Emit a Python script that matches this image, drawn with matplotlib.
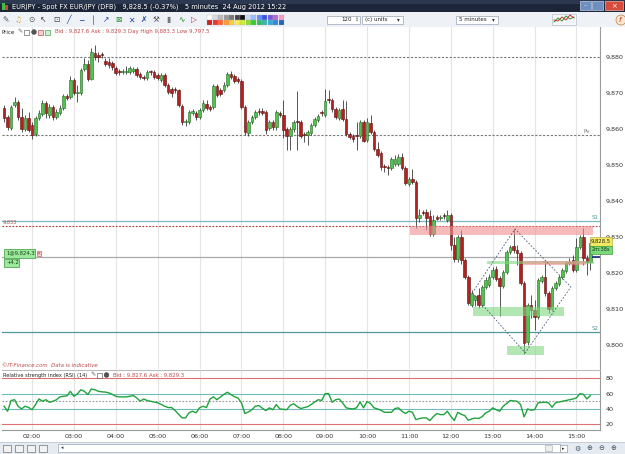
import matplotlib
matplotlib.use("Agg")
import matplotlib.pyplot as plt
import matplotlib.patches as mpatches

# EUR/JPY 5 minute candles, first bar at 01:20
first_bar_min = 80
bar_min = 5

opens = [9865.8, 9863.3, 9860.3, 9866.7, 9867.5, 9863.3, 9860.0, 9863.1, 9861.1, 9858.6,
         9863.1, 9864.2, 9867.2, 9863.9, 9866.1, 9863.3, 9864.4, 9865.8, 9869.2, 9868.9,
         9873.6, 9870.0, 9870.0, 9876.7, 9878.1, 9873.9, 9881.1, 9880.6, 9880.8, 9878.9,
         9878.6, 9878.3, 9876.9, 9875.8, 9875.8, 9875.8, 9875.8, 9876.1, 9876.7, 9875.3,
         9874.4, 9874.2, 9875.8, 9875.8, 9875.0, 9873.6, 9875.0, 9872.2, 9871.1, 9870.8,
         9870.8, 9866.4, 9861.9, 9861.9, 9864.4, 9864.4, 9863.3, 9865.3, 9866.9, 9866.1,
         9866.1, 9871.9, 9870.8, 9870.8, 9872.2, 9875.3, 9874.7, 9873.9, 9873.3, 9866.1,
         9858.9, 9861.9, 9863.3, 9864.7, 9865.0, 9864.7, 9860.3, 9861.9, 9860.6, 9864.4,
         9863.9, 9860.0, 9858.1, 9860.0, 9861.9, 9861.9, 9858.3, 9858.3, 9858.9, 9861.1,
         9862.5, 9864.4, 9863.9, 9868.1, 9868.1, 9865.6, 9863.1, 9865.6, 9862.8, 9858.6,
         9858.1, 9858.1, 9858.1, 9861.9, 9856.9, 9861.7, 9859.2, 9854.4, 9853.3, 9849.4,
         9849.2, 9849.2, 9850.3, 9850.3, 9852.2, 9849.2, 9844.7, 9846.1, 9845.3, 9835.3,
         9836.7, 9836.9, 9835.8, 9830.8, 9835.3, 9835.3, 9835.8, 9834.7, 9836.1, 9827.8,
         9823.9, 9830.0, 9823.6, 9818.9, 9811.1, 9812.5, 9813.9, 9811.1, 9816.1, 9816.7,
         9818.9, 9821.1, 9818.6, 9816.4, 9820.3, 9825.8, 9827.5, 9826.4, 9825.6, 9817.2,
         9800.8, 9811.1, 9809.7, 9807.8, 9817.8, 9818.9, 9814.4, 9810.0, 9815.8, 9816.9,
         9818.9, 9820.6, 9822.8, 9823.6, 9820.8, 9827.2, 9830.0, 9824.2, 9823.1]
closes = [9863.1, 9860.6, 9866.1, 9867.5, 9863.3, 9860.0, 9863.1, 9859.7, 9858.3, 9863.1,
          9864.4, 9867.2, 9864.4, 9866.1, 9863.3, 9864.7, 9865.8, 9869.2, 9868.6, 9873.6,
          9870.0, 9870.3, 9876.4, 9878.1, 9873.9, 9881.4, 9880.0, 9880.0, 9880.6, 9878.1,
          9877.8, 9877.2, 9875.6, 9875.7, 9875.9, 9876.1, 9876.9, 9876.7, 9875.0, 9874.4,
          9874.2, 9875.8, 9875.7, 9874.4, 9874.2, 9875.0, 9872.2, 9870.3, 9870.0, 9870.7,
          9866.7, 9861.9, 9862.0, 9864.7, 9865.0, 9863.3, 9865.3, 9867.2, 9865.8, 9865.6,
          9871.9, 9869.4, 9869.7, 9872.2, 9875.3, 9874.4, 9873.3, 9873.3, 9866.1, 9859.2,
          9861.9, 9863.3, 9864.7, 9864.6, 9864.4, 9859.7, 9861.9, 9860.6, 9864.7, 9863.9,
          9859.7, 9858.1, 9860.0, 9861.9, 9861.8, 9858.1, 9858.2, 9859.2, 9861.1, 9862.8,
          9863.6, 9864.3, 9867.8, 9867.9, 9865.6, 9863.3, 9865.3, 9862.8, 9858.6, 9857.8,
          9857.2, 9857.9, 9861.9, 9856.7, 9861.9, 9859.2, 9854.4, 9852.8, 9849.4, 9849.3,
          9849.0, 9851.7, 9851.7, 9852.2, 9849.2, 9845.0, 9846.1, 9845.3, 9835.3, 9836.1,
          9836.5, 9835.3, 9830.8, 9834.7, 9835.1, 9835.4, 9835.7, 9836.1, 9827.8, 9823.9,
          9830.0, 9823.6, 9818.9, 9811.7, 9814.4, 9813.6, 9811.1, 9816.1, 9818.1, 9818.9,
          9820.8, 9818.3, 9816.4, 9820.3, 9825.8, 9827.2, 9826.4, 9825.6, 9817.2, 9800.6,
          9811.1, 9809.7, 9807.8, 9818.1, 9818.9, 9814.4, 9810.0, 9815.8, 9817.2, 9818.9,
          9820.8, 9822.8, 9823.1, 9820.8, 9827.2, 9830.0, 9824.2, 9823.1, 9828.3]
highs = [9866.7, 9863.9, 9866.7, 9868.9, 9868.1, 9865.8, 9863.9, 9864.7, 9861.9, 9863.6,
         9865.3, 9868.1, 9867.8, 9866.9, 9866.7, 9865.6, 9866.7, 9869.7, 9869.7, 9874.7,
         9874.2, 9872.2, 9876.9, 9879.7, 9879.2, 9882.5, 9883.3, 9881.4, 9881.4, 9879.7,
         9879.7, 9878.9, 9877.5, 9876.7, 9876.7, 9877.5, 9877.5, 9877.2, 9877.2, 9875.8,
         9875.0, 9876.4, 9876.4, 9876.4, 9875.6, 9875.6, 9875.6, 9872.8, 9871.7, 9871.7,
         9871.1, 9866.9, 9862.8, 9865.3, 9865.6, 9865.0, 9865.8, 9868.1, 9868.1, 9866.7,
         9872.5, 9872.5, 9871.4, 9873.1, 9875.8, 9876.1, 9875.3, 9874.4, 9873.9, 9866.7,
         9862.5, 9863.9, 9865.3, 9865.8, 9865.8, 9865.3, 9862.5, 9862.5, 9865.3, 9865.0,
         9868.1, 9860.6, 9860.6, 9862.5, 9870.6, 9862.5, 9859.2, 9859.7, 9861.7, 9863.3,
         9864.2, 9865.3, 9871.1, 9870.8, 9868.6, 9866.1, 9865.8, 9868.1, 9867.8, 9859.2,
         9858.6, 9861.9, 9862.5, 9862.5, 9863.1, 9863.9, 9859.7, 9856.4, 9853.9, 9850.3,
         9850.0, 9852.2, 9852.8, 9853.1, 9853.3, 9849.7, 9846.7, 9848.9, 9845.8, 9837.8,
         9837.5, 9837.8, 9837.5, 9836.1, 9836.1, 9836.1, 9836.7, 9837.5, 9836.7, 9830.0,
         9830.6, 9831.9, 9824.2, 9819.4, 9815.3, 9813.9, 9815.8, 9816.7, 9818.9, 9819.7,
         9821.7, 9821.9, 9819.2, 9820.8, 9826.4, 9827.8, 9832.2, 9827.8, 9826.1, 9817.8,
         9811.7, 9813.9, 9812.5, 9818.6, 9819.4, 9823.6, 9815.0, 9816.4, 9817.8, 9819.4,
         9821.4, 9823.3, 9824.2, 9825.0, 9829.7, 9830.6, 9832.5, 9825.0, 9829.4]
lows = [9861.9, 9859.7, 9859.7, 9866.1, 9862.5, 9859.2, 9859.4, 9859.2, 9857.2, 9858.1,
        9862.5, 9863.6, 9863.1, 9863.1, 9862.5, 9862.8, 9863.9, 9865.3, 9868.1, 9868.3,
        9869.4, 9867.5, 9869.4, 9876.1, 9873.3, 9873.6, 9879.2, 9878.6, 9879.7, 9877.5,
        9876.9, 9876.4, 9875.0, 9875.0, 9875.3, 9875.3, 9875.3, 9875.6, 9874.4, 9873.9,
        9873.6, 9873.6, 9875.0, 9873.9, 9873.6, 9873.1, 9871.7, 9869.7, 9868.9, 9870.0,
        9866.1, 9861.1, 9860.8, 9861.4, 9863.9, 9862.5, 9862.8, 9864.7, 9865.3, 9865.0,
        9865.6, 9868.9, 9869.2, 9870.3, 9871.7, 9873.9, 9872.8, 9872.8, 9865.6, 9858.3,
        9858.1, 9861.4, 9862.8, 9863.9, 9863.9, 9858.6, 9859.7, 9859.7, 9859.7, 9863.3,
        9857.5, 9854.2, 9854.2, 9859.2, 9854.2, 9857.5, 9856.4, 9855.6, 9858.3, 9860.6,
        9861.9, 9863.6, 9863.3, 9867.2, 9864.7, 9862.8, 9862.5, 9862.2, 9858.1, 9857.2,
        9856.4, 9854.2, 9857.5, 9856.4, 9856.4, 9858.6, 9853.9, 9852.2, 9848.6, 9848.1,
        9847.2, 9848.6, 9849.7, 9849.7, 9848.6, 9844.4, 9844.2, 9844.7, 9832.5, 9834.2,
        9836.1, 9831.9, 9830.3, 9830.3, 9834.7, 9834.7, 9835.0, 9834.2, 9826.4, 9823.1,
        9823.1, 9822.5, 9818.3, 9811.1, 9810.6, 9810.8, 9810.3, 9810.6, 9815.6, 9816.1,
        9818.3, 9817.8, 9808.1, 9815.8, 9819.7, 9825.3, 9825.6, 9822.2, 9816.7, 9797.5,
        9800.0, 9807.5, 9804.2, 9807.2, 9817.2, 9813.6, 9808.9, 9809.4, 9815.3, 9816.4,
        9818.3, 9820.0, 9822.2, 9820.3, 9820.3, 9826.7, 9822.2, 9819.4, 9820.8]

rsi = [43.5, 37, 51, 52, 43.5, 40, 43.5, 42, 39, 45.7,
       53, 50, 52, 48.7, 50, 52, 55.7, 56.5, 57, 63,
       56.5, 59.7, 65, 63, 58.7, 66, 65, 63, 62.3, 62,
       61, 59, 56.5, 55.7, 55.7, 55.7, 56.5, 57.5, 54.4, 50,
       53, 51, 50, 49, 48, 46, 43.5, 41.8, 41.8, 38,
       33, 28.3, 28.3, 35, 37, 35, 41.4, 43.5, 41.8, 53,
       55.7, 52, 55.7, 59, 61.8, 58.7, 56, 54.4, 48, 34,
       36, 39, 43.5, 44.4, 41, 37.8, 41.4, 39, 45.7, 40,
       39.5, 39, 44.8, 46.6, 43, 40.5, 41.8, 43, 45.7, 49,
       52, 51, 60, 60, 48.7, 52, 53, 48, 41.4, 40.5,
       40, 41.4, 49, 41.4, 49.6, 47, 41.4, 40, 38.3, 35.6,
       35.6, 35.6, 40.5, 41.4, 37, 34, 37, 35.6, 26, 27.5,
       28.3, 28.3, 24.8, 30, 34, 32.6, 32.6, 37, 30.4, 24.8,
       35.6, 33, 31.3, 25.2, 27, 28, 27.5, 30, 34.8, 37,
       41.4, 39, 37, 43.5, 47, 51, 50.5, 50, 45.7, 29.6,
       40, 38.3, 39, 48, 48.5, 48.7, 48, 42.2, 48, 49,
       50, 51, 52, 53, 54.4, 60, 59, 53, 57.5]

hours = ['02:00', '03:00', '04:00', '05:00', '06:00', '07:00', '08:00',
         '09:00', '10:00', '11:00', '12:00', '13:00', '14:00', '15:00']
price_ticks = [9800, 9810, 9820, 9830, 9840, 9850, 9860, 9870, 9880]
rsi_ticks = [20, 40, 60, 80]

r1 = 9880.0
pv = 9858.3
s1 = 9834.3
s2 = 9803.5
alert = 9833.1
position = 9824.3

# drawn zones: (first bar, last bar, low, high, colour)
zones = [(116.3, 168.5, 9830.8, 9833.0, '#f08c8c'),
         (138.4, 168.8, 9822.7, 9823.4, '#7fd67f'),
         (148.7, 166.5, 9822.5, 9823.4, '#f08c8c'),
         (134.4, 160.1, 9808.3, 9810.6, '#7fd67f'),
         (144.1, 154.4, 9797.5, 9799.7, '#7fd67f')]
# diamond pattern vertices (bar, price)
diamond = [(134.1, 9814.4), (146.4, 9832.2), (162.4, 9816.1), (149.3, 9797.8), (134.1, 9814.4)]

W, H = 625, 454
fig = plt.figure(figsize=(W / 100, H / 100), dpi=100)
fig.patch.set_facecolor('white')


def px_axes(x0, y0, x1, y1, **kw):
    return fig.add_axes([x0 / W, 1 - y1 / H, (x1 - x0) / W, (y1 - y0) / H], **kw)


n = len(closes)
idx = list(range(n))
hour_idx = [((int(h[:2]) * 60) - first_bar_min) / bar_min for h in hours]
xlim = (-0.6, 170.75)

# ---- price panel
ax = px_axes(2, 27, 600, 369)
ax.set_xlim(*xlim)
ax.set_ylim(9793.3, 9888.3)
for hx in hour_idx:
    ax.axvline(hx, color='#e4e4e4', lw=0.8, zorder=0)

ax.axhline(r1, color='#777777', lw=0.8, ls=(0, (2, 1.5)), zorder=1)
ax.axhline(pv, color='#777777', lw=0.8, ls=(0, (2, 1.5)), zorder=1)
ax.axhline(s1, color='#7ab8c0', lw=0.9, zorder=1)
ax.axhline(alert, color='#b03030', lw=0.8, ls=(0, (1.5, 1.5)), zorder=1)
ax.axhline(position, color='#a8a8a8', lw=0.9, zorder=1)
ax.axhline(s2, color='#4f9a9a', lw=0.9, zorder=1)
ax.hlines(position, 168.6, 171, color='#1a2a8a', lw=1.2, zorder=5)

up = [c >= o for o, c in zip(opens, closes)]
ax.vlines(idx, lows, highs, color='#3a3a3a', lw=0.6, zorder=2)
bottoms = [min(o, c) for o, c in zip(opens, closes)]
heights = [max(abs(c - o), 0.3) for o, c in zip(opens, closes)]
ax.bar(idx, heights, bottom=bottoms, width=0.74,
       color=['#4fc24f' if u else '#b32020' for u in up],
       edgecolor=['#236b23' if u else '#5e0d0d' for u in up], linewidth=0.4, zorder=3)

for x0, x1, lo, hi, col in zones:
    ax.add_patch(mpatches.Rectangle((x0, lo), x1 - x0, hi - lo, facecolor=col, alpha=0.6,
                                    edgecolor=col, lw=0.5, zorder=4))
ax.plot([p[0] for p in diamond], [p[1] for p in diamond], color='#4a5a7a', lw=0.6,
        ls=(0, (2, 2)), zorder=5)

ax.set_yticks(price_ticks)
ax.set_yticklabels([f"{t // 1000},{t % 1000:03d}" for t in price_ticks], fontsize=4.6, color='#333333')
ax.yaxis.tick_right()
ax.tick_params(axis='y', length=0, pad=4)
ax.set_xticks([])
for s in ['top', 'left', 'bottom']:
    ax.spines[s].set_visible(False)
ax.spines['right'].set_color('#9a9a9a')
ax.spines['right'].set_linewidth(0.8)

ax.text(168.0, pv + 0.4, 'Pv', fontsize=4, color='#777777', ha='right', va='bottom')
ax.text(170.3, s1 + 0.4, 'S1', fontsize=4, color='#4f9a9a', ha='right', va='bottom')
ax.text(170.3, s2 + 0.4, 'S2', fontsize=4, color='#4f9a9a', ha='right', va='bottom')
ax.text(-0.3, alert + 0.3, '9,833', fontsize=3.6, color='#b05050', ha='left', va='bottom')

# ---- RSI panel
ar = px_axes(2, 370, 600, 430)
ar.set_xlim(*xlim)
ar.set_ylim(12.5, 90.8)
for hx in hour_idx:
    ar.axvline(hx, color='#e4e4e4', lw=0.8, zorder=0)
ar.axhline(80, color='#e07070', lw=0.8)
ar.axhline(20, color='#e07070', lw=0.8)
ar.axhline(60, color='#6fbcbc', lw=0.8)
ar.axhline(40, color='#6fbcbc', lw=0.8)
ar.axhline(50, color='#999999', lw=0.8, ls=(0, (1.5, 1.5)))
ar.plot(idx, rsi, color='#1fa33c', lw=1.0, zorder=3)
ar.set_yticks(rsi_ticks)
ar.set_yticklabels([str(t) for t in rsi_ticks], fontsize=4.6, color='#333333')
ar.yaxis.tick_right()
ar.tick_params(axis='y', length=0, pad=4)
ar.set_xticks(hour_idx)
ar.set_xticklabels(hours, fontsize=4.6, color='#333333')
ar.tick_params(axis='x', length=0, pad=3)
ar.spines['left'].set_visible(False)
ar.spines['top'].set_color('#bbbbbb')
ar.spines['bottom'].set_color('#9a9a9a')
ar.spines['right'].set_color('#9a9a9a')
for s in ['top', 'bottom', 'right']:
    ar.spines[s].set_linewidth(0.8)

# ---- window chrome, drawn in pixel space
ov = fig.add_axes([0, 0, 1, 1], zorder=10)
ov.set_xlim(0, W)
ov.set_ylim(H, 0)
ov.axis('off')
ov.patch.set_alpha(0)


def box(x0, y0, x1, y1, fc, ec='none', lw=0.5, **kw):
    ov.add_patch(mpatches.Rectangle((x0, y0), x1 - x0, y1 - y0, facecolor=fc, edgecolor=ec, lw=lw, **kw))


# title bar
box(0, 0, W, 12, '#1d2638')
box(0, 0, W, 4, '#2c3850')
box(2, 3, 5, 10, '#3fbf3f')
box(5, 5, 8, 10, '#d04040')
ov.text(12, 6.3, 'EURJPY - Spot FX EUR/JPY (DFB)   9,828.5 (-0.37%)   5 minutes  24 Aug 2012 15:22',
        fontsize=4.8, color='white', va='center')
box(580, 1, 591, 10, '#6f8fbf', ec='#c0d0e8')
box(592, 1, 603, 10, '#6f8fbf', ec='#c0d0e8')
box(605, 1, 623, 10, '#d84a3a', ec='#f0b0a0')
ov.text(585.5, 6, '–', fontsize=4, color='white', ha='center', va='center')
ov.text(614, 6, '×', fontsize=5, color='white', ha='center', va='center')

# toolbar
box(0, 12, W, 27, '#eef2f7')
box(0, 26.5, W, 27, '#c8ced8')
glyphs = ['✎', '♫', '⊙', '↖', '⊡', '╱', '─', '│', '↗', '⊠', '✕', '✗', '⚒', '▮', '∿', '▷']
gcol = ['#555555', '#d4a020', '#555555', '#333333', '#444444', '#2040a0', '#2040a0', '#2040a0',
        '#2040a0', '#2a8a2a', '#2040a0', '#2040a0', '#555555', '#777777', '#2a8a2a', '#c03030']
for k, (g, c) in enumerate(zip(glyphs, gcol)):
    ov.text(6 + k * 12.5, 19.8, g, fontsize=5.5, color=c, ha='center', va='center')
pal_top = ['#ffffff', '#dddddd', '#bbbbbb', '#999999', '#777777', '#444444', '#111111',
           '#c8dcff', '#99bbff', '#6688ff', '#3355ee', '#7755dd', '#bb66cc', '#ff99cc']
pal_bot = ['#cc2222', '#ee3333', '#ff6633', '#ff9933', '#ffcc33', '#ffee44', '#ccee33',
           '#88dd33', '#33cc33', '#33bb66', '#33bbaa', '#33aadd', '#3388dd', '#2266bb']
for k, (ct, cb) in enumerate(zip(pal_top, pal_bot)):
    box(207 + k * 5.5, 15, 212 + k * 5.5, 19.5, ct, ec='#aaaaaa', lw=0.2)
    box(207 + k * 5.5, 20, 212 + k * 5.5, 24.5, cb, ec='#aaaaaa', lw=0.2)
box(327, 15.5, 360, 24, 'white', ec='#9aa4b4')
ov.text(352, 19.8, '120', fontsize=4, color='#222222', ha='right', va='center')
ov.text(357, 19.8, '⇕', fontsize=3.5, color='#444444', ha='center', va='center')
box(362, 15.5, 403, 24, 'white', ec='#9aa4b4')
ov.text(365, 19.8, '(c) units', fontsize=4, color='#222222', va='center')
ov.text(398, 19.8, '▾', fontsize=4, color='#333333', ha='center', va='center')
box(456, 15.5, 498, 24, 'white', ec='#9aa4b4')
ov.text(459, 19.8, '5 minutes', fontsize=4, color='#222222', va='center')
ov.text(493, 19.8, '▾', fontsize=4, color='#333333', ha='center', va='center')
box(552, 14, 576, 25, '#f4f6fa', ec='#b8c0cc')
ov.plot([554, 558, 562, 566, 570, 574], [22, 18, 21, 16, 19, 17], color='#2a9a2a', lw=0.7)
ov.plot([554, 558, 562, 566, 570, 574], [20, 21, 17, 20, 15, 18], color='#c03030', lw=0.7)
ov.add_patch(mpatches.Circle((621, 20), 5, facecolor='#fbe6d0', edgecolor='#c08040', lw=0.5))
ov.text(620, 20, 'f', fontsize=5, color='#c03020', ha='center', va='center', style='italic')

# price panel header
ov.text(2, 32, 'Price', fontsize=4, color='#222222', va='center')
ov.text(17, 32, '✎', fontsize=4.5, color='#666666', va='center')
box(24, 29.5, 29, 34.5, 'white', ec='#444444', lw=0.4)
ov.add_patch(mpatches.Circle((34, 32), 2.4, facecolor='#555555', edgecolor='#333333', lw=0.3))
box(38, 29.5, 43, 34.5, '#f4d0d0', ec='#a03030', lw=0.4)
box(45, 29.5, 50, 34.5, '#d0f0d0', ec='#2a8a2a', lw=0.4)
ov.text(55, 32, 'Bid : 9,827.6 Ask : 9,829.3 Day High 9,883.3 Low 9,797.5', fontsize=3.9,
        color='#c04848', va='center')

# open position tags
box(4, 249, 35, 257.5, '#9ee89e', ec='#3a9a3a', lw=0.5)
ov.text(6, 253.3, '1@9,824.3', fontsize=3.8, color='#114411', va='center')
box(4, 258.5, 19, 266.5, '#9ee89e', ec='#3a9a3a', lw=0.5)
ov.text(6, 262.5, '+4.2', fontsize=3.8, color='#114411', va='center')
box(36.5, 251, 40.5, 256, '#f8d8d8', ec='#c04040', lw=0.4)
ov.text(38.5, 253.5, '×', fontsize=3.5, color='#c02020', ha='center', va='center')

# last price tags on the axis
box(590, 237, 612, 245.5, '#f4e860', ec='#b0a030', lw=0.4)
ov.text(601, 241.3, '9,828.5', fontsize=3.8, color='#222222', ha='center', va='center')
box(590, 246, 612, 253.5, '#7ad87a', ec='#2a8a2a', lw=0.4)
ov.text(601, 249.8, '2m:38s', fontsize=3.6, color='#113311', ha='center', va='center')

ov.text(2, 365.5, '©IT-Finance.com  Data is indicative', fontsize=3.9, color='#c04848',
        style='italic', va='center')

# RSI header
ov.text(3, 375, 'Relative strength index (RSI) (14)', fontsize=3.6, color='#222222', va='center',
        bbox=dict(boxstyle='square,pad=0.15', fc='white', ec='none'))
ov.text(90, 375, '✎', fontsize=4.5, color='#666666', va='center')
box(97, 372.5, 102, 377.5, 'white', ec='#444444', lw=0.4)
ov.add_patch(mpatches.Circle((106.5, 375), 2.4, facecolor='#555555', edgecolor='#333333', lw=0.3))
ov.text(113, 375, 'Bid : 9,827.6 Ask : 9,829.3', fontsize=3.9, color='#c04848', va='center')

# bottom toolbar
box(0, 442, W, H, '#e6ebf2')
box(0, 442, W, 442.6, '#c8ced8')
for k in range(4):
    box(3 + k * 12, 445, 11 + k * 12, 452, '#f2f2f2', ec='#555555', lw=0.4)
box(58, 444, 560, 452, 'white', ec='#9aa4b4')
ov.text(61, 448, '◂', fontsize=3.5, color='#333333', va='center')
box(545, 445, 552, 451, '#eeeeee', ec='#aaaaaa', lw=0.4)
box(560, 445, 567, 452, 'white', ec='#888888', lw=0.4)
ov.text(563.5, 448.5, '▸', fontsize=3.5, color='#333333', ha='center', va='center')
for k, g in enumerate(['⚙', '⊕', '⊖', '⊕']):
    ov.text(577 + k * 12, 448.5, g, fontsize=5, color='#445566', ha='center', va='center')

fig.savefig('out.png', dpi=100)
